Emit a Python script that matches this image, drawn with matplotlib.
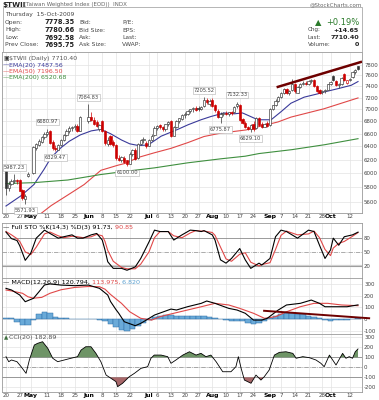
import numpy as np
import matplotlib
matplotlib.use("Agg")
import matplotlib.pyplot as plt
from matplotlib.ticker import NullLocator

plt.rcParams['font.family'] = ['DejaVu Sans']
nan = float('nan')

# ---------------- data (day index 0 = 20-Apr-2009, weekdays) ----------------
opens = [6030,5790,5850,5880,5900,5900,5760,5640,5960,nan,
         6000,6380,6420,6470,6540,6600,6640,6470,6380,6350,
         6420,6500,6580,6650,6690,6700,6730,6650,nan,nan,
         6800,6880,6830,6790,6680,6800,6640,6440,6560,6470,
         6420,6230,6200,6230,6190,6140,6290,6350,6220,6440,
         6500,6460,6410,6500,6580,6690,6740,6710,6670,6750,
         6800,6570,6700,6800,6840,6900,6930,6970,7000,7030,
         7020,7000,7060,7160,7100,7160,7070,6980,6870,6930,
         6940,6920,6950,6950,7050,7080,6840,6780,6710,6680,
         6760,6690,6860,6760,6710,6780,6740,7010,7070,7150,
         7210,7280,7360,7280,7330,7450,7290,7390,7440,7470,
         7450,7490,7520,7410,7330,7300,7310,7340,7440,7580,
         7500,7430,7450,7620,7460,7510,7570,7660,7778.35]
highs = [6050,5880,5920,5987.23,5920,5910,5770,5700,6010,nan,
         6400,6460,6520,6560,6620,6680.97,6660,6500,6420,6440,
         6520,6600,6680,6720,6730,6750,6750,6890,nan,nan,
         7084.83,6950,6870,6820,6760,6830,6660,6550,6580,6500,
         6440,6270,6260,6250,6200,6310,6360,6370,6460,6520,
         6540,6480,6520,6590,6720,6740,6760,6730,6760,6800,
         6830,6720,6820,6860,6920,6950,6990,7010,7040,7050,
         7050,7060,7205.52,7190,7170,7190,7090,7000,6950,6960,
         6970,6960,6970,7060,7132.33,7090,6860,6800,6730,6760,
         6800,6870,6880,6790,6770,6800,7030,7080,7170,7230,
         7300,7370,7380,7340,7540,7470,7400,7460,7490,7500,
         7510,7530,7540,7430,7350,7330,7360,7450,7500,7600,
         7520,7470,7570,7640,7520,7560,7680,7710,7780.66]
lows = [5690,5740,5830,5860,5850,5740,5620,5571.93,5950,nan,
        5990,6350,6400,6450,6510,6560,6440,6350,6329.47,6340,
        6400,6480,6560,6610,6650,6660,6620,6640,nan,nan,
        6780,6800,6740,6700,6650,6620,6420,6410,6420,6390,
        6200,6180,6160,6150,6100.00,6130,6260,6190,6210,6420,
        6460,6380,6400,6480,6570,6660,6680,6650,6650,6720,
        6540,6560,6690,6780,6820,6860,6900,6940,6960,6980,
        6980,6990,7040,7100,7050,7040,6960,6850,6775.87,6890,
        6900,6890,6900,6940,7030,6800,6750,6690,6660,6629.10,
        6650,6680,6720,6690,6700,6700,6730,6990,7050,7120,
        7190,7260,7260,7250,7320,7290,7280,7370,7420,7420,
        7430,7460,7390,7300,7270,7260,7290,7330,7420,7500,
        7400,7380,7420,7500,7440,7490,7560,7630,7692.58]
closes = [5780,5850,5890,5900,5880,5750,5650,5680,5992,nan,
          6390,6430,6480,6540,6590,6620,6460,6370,6360,6420,
          6500,6580,6650,6690,6700,6720,6650,6870,nan,nan,
          6880,6820,6760,6720,6740,6640,6450,6500,6440,6420,
          6220,6200,6240,6170,6130,6290,6340,6210,6440,6500,
          6510,6400,6500,6570,6690,6720,6700,6670,6750,6790,
          6560,6700,6800,6850,6900,6930,6970,7000,7020,6990,
          7000,7040,7160,7120,7150,7060,6990,6870,6930,6940,
          6920,6950,6940,7040,7090,6820,6770,6700,6680,6740,
          6670,6860,6740,6710,6760,6720,7010,7070,7150,7210,
          7280,7350,7280,7320,7450,7310,7390,7440,7470,7450,
          7490,7510,7410,7320,7290,7310,7340,7440,7480,7520,
          7430,7450,7560,7520,7510,7540,7660,7695.75,7710.40]

ema20_x = [0,5.5,10.2,13.8,16.4,20,23,27,31,34.5,38,42,45,48,51.6,56.4,62.5,66.2,70.9,74.5,
           79.3,83,86,91.6,96.4,100,103.6,108.4,113.5,115.6,120.7,125.5,128]
ema20_v = [5540,5680,5837,6052,6230,6380,6480,6580,6645,6670,6600,6500,6440,6415,6420,6560,6670,6744,6826,6880,
           6940,6925,6940,6826,6826,6960,7105,7210,7270,7300,7360,7420,7487.56]
ema50_x = [0,12.7,16.4,22.5,28.4,34.5,40.7,43.6,48,53.8,60,66.2,72,78.2,87.3,91.6,98.9,103.6,115.6,128]
ema50_v = [5200,5440,5545,5690,5835,6040,6115,6145,6230,6300,6370,6460,6555,6610,6660,6710,6790,6870,7010,7196.50]
ema200_x = [0,10,22.5,34.5,43.6,54,66,78,87,92,104,116,128]
ema200_v = [5850,5862,5900,5979,6026,6076,6150,6210,6250,6290,6350,6427,6520.68]

sto_x = [0,2,4,5,7,9,11,14,16,19,21,24,26,28,31,33,35,36,37,39,42,44,47,49,52,54,56,59,61,64,
         67,69,71,72,75,76,78,80,82,85,87,89,92,93,96,98,100,102,106,110,112,114,116,118,119,121,123,126,128]
sto_k = [92,78,74,63,32,47,79,96,89,79,82,86,79,79,86,89,75,54,29,15,15,11,18,36,71,96,93,93,75,86,
         96,95,93,95,86,75,33,26,36,57,33,15,26,22,36,82,96,93,79,96,93,64,36,54,79,64,82,86,91.73]
sto_d = [93,86,78,72,50,44,60,88,92,84,80,83,82,80,82,87,84,72,53,30,17,14,14,24,50,80,93,93,84,80,
         90,95,94,94,91,85,60,35,30,45,48,28,20,23,27,55,85,94,86,88,94,80,55,42,58,68,72,83,90.85]

macd_x = [0,2,5,7,10,12,14,16,20,25,30,34,37,38,40,41,43,47,49,51,54,58,60,62,66,71,73,76,81,84,
          87,90,93,95,99,102,107,111,114,116,119,124,128]
macd_v = [262,248,205,148,177,233,291,300,290,285,290,262,205,150,80,49,-23,-57,-37,-9,34,68,85,77,105,134,154,134,91,77,
          49,-9,-9,6,77,120,134,162,134,105,105,105,120.794]
sig_x = [0,2,6,8,10,13,16,20,25,30,34,36,38,42,45,49,53,56,61,66,71,76,81,85,90,94,98,102,107,112,117,122,128]
sig_v = [248,240,220,190,178,185,220,250,270,278,276,255,210,134,62,6,-9,20,49,77,105,134,120,91,49,6,20,62,105,134,134,120,113.975]
hist_v = [8,5,-25,-55,-50,-10,40,57,50,20, 5,5,3,0,0,3,-2,-5,-15,-40,
          -65,-90,-100,-85,-60,-30,-5,15,28,35, 35,28,25,25,28,30,25,20,12,0,
          -10,-20,-15,-20,-35,-40,-30,-15,5,25, 40,50,50,45,40,30,18,5,-10,-18,
          -12,-8,-5,-2,6.82]
hist_x = list(range(0, 129, 2))

cci_x = [0,1,2,4,5.5,7.3,8.5,10.3,11.5,13.3,15.2,17,18.8,21.2,23.6,26,27.3,29,30.9,32.7,
         34.5,36.4,38.2,40,40.6,42.4,44.8,46.7,49.1,51.5,52.7,53.9,56.4,58.8,60,61.8,64.3,66.7,69.1,70.9,
         72.7,74.5,76.4,78.8,81.8,83.6,84.5,85.5,86.7,89.1,90.9,92.7,93.9,95.7,97.6,99.4,101.8,104.3,105.5,107.9,
         110.3,112.7,114.5,115.7,117.6,120,122.4,123.6,124.8,126,127,128]
cci_v = [106,56,73,56,6,-60,73,222,239,255,189,90,56,73,90,106,172,205,205,139,
         56,-77,-110,-143,-193,-159,-94,-60,-10,6,90,122,122,106,40,73,122,155,122,139,
         106,122,56,-44,-44,6,106,-10,-127,-159,-77,-127,-94,-27,122,149,155,139,90,106,
         96,73,40,6,122,23,139,90,106,90,155,182.89]

tick_idx = [0,5,9,15,20,25,30,35,40,45,52,55,60,65,70,75,80,85,90,96,100,105,110,115,118,125]
tick_lbl = ['20','27','May','11','18','25','Jun','8','15','22','Jul','6','13','20','27','Aug',
            '10','17','24','Sep','7','14','21','28','Oct','12']
months = {'May','Jun','Jul','Aug','Sep','Oct'}
price_ticks = [5600,5800,6000,6200,6400,6600,6800,7000,7200,7400,7600,7800]

hi_labels = [(3,'5987.23'),(15,'6680.97'),(30,'7084.83'),(72,'7205.52'),(84,'7132.33')]
lo_labels = [(7,'5571.93'),(18,'6329.47'),(44,'6100.00'),(78,'6775.87'),(89,'6629.10')]

trend_price = ([98.4, 129.45], [7385, 7857])
trend_macd = ([93.5, 132.4], [71, 6])

# ---------------- figure ----------------
W, H = 379, 400
fig = plt.figure(figsize=(W/100, H/100), dpi=100)
fig.patch.set_facecolor('white')
L, R = 2, 362
XMIN, XMAX = -1.45, 129.45
GRAY = '#444444'

def panel(top, bottom, xlabels):
    ax = fig.add_axes([L/W, 1-bottom/H, (R-L)/W, (bottom-top)/H])
    ax.set_xlim(XMIN, XMAX)
    for s in ax.spines.values():
        s.set_color('#9a9a9a'); s.set_linewidth(0.6)
    ax.yaxis.tick_right()
    ax.tick_params(axis='y', length=0, pad=1.5, labelsize=3.9, labelcolor=GRAY)
    ax.tick_params(axis='x', length=0, pad=1.0, labelsize=4.0, labelcolor=GRAY)
    ax.set_xticks(tick_idx)
    if xlabels:
        ax.set_xticklabels(tick_lbl)
        for t in ax.get_xticklabels():
            if t.get_text() in months:
                t.set_fontweight('bold'); t.set_color('black'); t.set_fontsize(4.4)
    else:
        ax.set_xticklabels([])
    ax.grid(True, color='#e3e3e3', lw=0.5)
    ax.set_axisbelow(True)
    return ax

def ftext(px, py, s, **kw):
    kw.setdefault('va', 'center')
    return fig.text(px/W, 1-py/H, s, **kw)

def multi(px, py, parts, **kw):
    r = fig.canvas.get_renderer()
    for s, c in parts:
        t = ftext(px, py, s, color=c, **kw)
        px += t.get_window_extent(renderer=r).width

# ---------- header ----------
ftext(2, 4.5, '$TWII', fontsize=5.2, fontweight='bold', color='#222222')
ftext(24, 4.5, '(Taiwan Weighted Index (EOD))  INDX', fontsize=4.0, color='#666666')
ftext(362, 4.5, '@StockCharts.com', fontsize=4.0, color='#666666', ha='right')
fig.add_artist(plt.Rectangle((3/W, 1-52/H), (R-3)/W, (52-7)/H, transform=fig.transFigure,
                             fill=False, ec='#aaaaaa', lw=0.6))
ftext(5, 14.5, 'Thursday  15-Oct-2009', fontsize=4.3, color=GRAY)
rows_y = [22.5, 30, 37.5, 45]
for y, a, v, b, c in zip(rows_y, ['Open:', 'High:', 'Low:', 'Prev Close:'],
                         ['7778.35', '7780.66', '7692.58', '7695.75'],
                         ['Bid:', 'Bid Size:', 'Ask:', 'Ask Size:'],
                         ['P/E:', 'EPS:', 'Last:', 'VWAP:']):
    ftext(5, y, a, fontsize=4.3, color=GRAY)
    ftext(75, y, v, fontsize=4.8, fontweight='bold', color='#222222', ha='right')
    ftext(79, y, b, fontsize=4.3, color=GRAY)
    ftext(122, y, c, fontsize=4.3, color=GRAY)
ftext(318, 22.5, '\u25B2', fontsize=6, color='#2a7a2a', ha='center')
ftext(359, 22.5, '+0.19%', fontsize=6, color='#2a7a2a', ha='right')
for y, a, v in zip(rows_y[1:], ['Chg:', 'Last:', 'Volume:'], ['+14.65', '7710.40', '0']):
    ftext(308, y, a, fontsize=4.1, color=GRAY)
    ftext(359, y, v, fontsize=4.6, fontweight='bold', color='#222222', ha='right')

# ---------- price panel ----------
ax = panel(52, 212.7, True)
ax.set_yscale('log')
ax.set_ylim(5451, 8043)
ax.set_yticks(price_ticks)
ax.set_yticklabels([str(t) for t in price_ticks])
ax.yaxis.set_minor_locator(NullLocator())

O = np.array(opens); Hh = np.array(highs); Lo = np.array(lows); C = np.array(closes)
prev = np.nan
for i in range(len(C)):
    if np.isnan(C[i]):
        continue
    col = '#cc0000' if (not np.isnan(prev) and C[i] < prev) else '#333333'
    ax.vlines(i, Lo[i], Hh[i], color=col, lw=0.5, zorder=3)
    lo, hi = min(O[i], C[i]), max(O[i], C[i])
    fc = col if C[i] < O[i] else 'white'
    ax.bar(i, hi - lo, bottom=lo, width=0.75, color=fc, edgecolor=col, lw=0.45, zorder=4)
    prev = C[i]

ax.plot(ema20_x, ema20_v, color='#3a3a9a', lw=0.8, zorder=2)
ax.plot(ema50_x, ema50_v, color='#e04848', lw=0.8, zorder=2)
ax.plot(ema200_x, ema200_v, color='#3f8f3f', lw=0.8, zorder=2)
ax.plot(*trend_price, color='#6e0000', lw=1.8, zorder=5, solid_capstyle='butt')

bb = dict(boxstyle='square,pad=0.15', fc='white', ec='#b0b0b0', lw=0.4)
for i, s in hi_labels:
    ax.annotate(s, (i, highs[i]), xytext=(0, 3), textcoords='offset points', ha='center', va='bottom',
                fontsize=3.7, color=GRAY, bbox=bb, zorder=6)
for i, s in lo_labels:
    ax.annotate(s, (i, lows[i]), xytext=(0, -3), textcoords='offset points', ha='center', va='top',
                fontsize=3.7, color=GRAY, bbox=bb, zorder=6)

ftext(3.5, 58.5, '\u25A3', fontsize=4.2, color='#333333')
ftext(9, 58.5, '$TWII (Daily) 7710.40', fontsize=4.5, color='#555555')
for y, s, c in [(65, 'EMA(20) 7487.56', '#3a3a9a'), (71.5, 'EMA(50) 7196.50', '#e04848'),
                (78, 'EMA(200) 6520.68', '#3f8f3f')]:
    ftext(3, y, '\u2014', fontsize=4.5, color=c)
    ftext(9, y, s, fontsize=4.5, color=c)

# ---------- STO panel ----------
ax2 = panel(223.3, 278.3, False)
ax2.set_ylim(-6.1, 110.5)
ax2.set_yticks([20, 50, 80])
ax2.set_yticklabels(['20', '50', '80'])
ax2.grid(False, axis='y')
ax2.axhline(80, color='#8a8a8a', lw=0.6)
ax2.axhline(20, color='#d0d0d0', lw=1.6)
ax2.axhline(20, color='#8a8a8a', lw=0.5)
ax2.axhline(50, color='#8a8a8a', lw=0.5, ls='-.')
ax2.plot(sto_x, sto_d, color='#e04848', lw=0.8)
ax2.plot(sto_x, sto_k, color='black', lw=0.8)
multi(3, 227.5, [('\u2014 Full STO %K(14,3) %D(3) 91.73,', 'black'), (' 90.85', '#e04848')], fontsize=4.6)

# ---------- MACD panel ----------
ax3 = panel(278.3, 334, False)
ax3.set_ylim(-128, 348)
ax3.set_yticks([-100, 0, 100, 200, 300])
ax3.set_yticklabels(['-100', '0', '100', '200', '300'])
ax3.bar(hist_x, hist_v, width=1.9, color='#6aaad8', edgecolor='#2f6fa8', lw=0.35, zorder=2)
ax3.plot(sig_x, sig_v, color='#e04848', lw=0.8, zorder=3)
ax3.plot(macd_x, macd_v, color='black', lw=0.8, zorder=3)
ax3.plot(*trend_macd, color='#6e0000', lw=1.4, zorder=4, clip_on=False, solid_capstyle='butt')
multi(3, 282.5, [('\u2014 MACD(12,26,9) 120.794,', 'black'), (' 113.975,', '#e04848'),
                 (' 6.820', '#5aa0d0')], fontsize=4.6)

# ---------- CCI panel ----------
ax4 = panel(334, 391.7, True)
ax4.set_ylim(-243, 332)
ax4.set_yticks([-200, -100, 0, 100, 200, 300])
ax4.set_yticklabels(['-200', '-100', '0', '100', '200', '300'])
cx = np.array(cci_x); cv = np.array(cci_v)
ax4.fill_between(cx, 100, cv, where=cv > 100, interpolate=True, color='#6e9466', lw=0, zorder=2)
ax4.fill_between(cx, -100, cv, where=cv < -100, interpolate=True, color='#a8686a', lw=0, zorder=2)
ax4.axhline(100, color='#8a8a8a', lw=0.6, zorder=1)
ax4.axhline(-100, color='#8a8a8a', lw=0.6, zorder=1)
ax4.axhline(0, color='#8a8a8a', lw=0.5, ls='-.', zorder=1)
ax4.plot(cx, cv, color='black', lw=0.6, zorder=3)
ftext(3.5, 337.8, '\u25B2', fontsize=4, color='#3f6f3f')
ftext(9, 337.8, 'CCI(20) 182.89', fontsize=4.6, color='#555555')

fig.savefig('out.png', dpi=100, facecolor='white')
